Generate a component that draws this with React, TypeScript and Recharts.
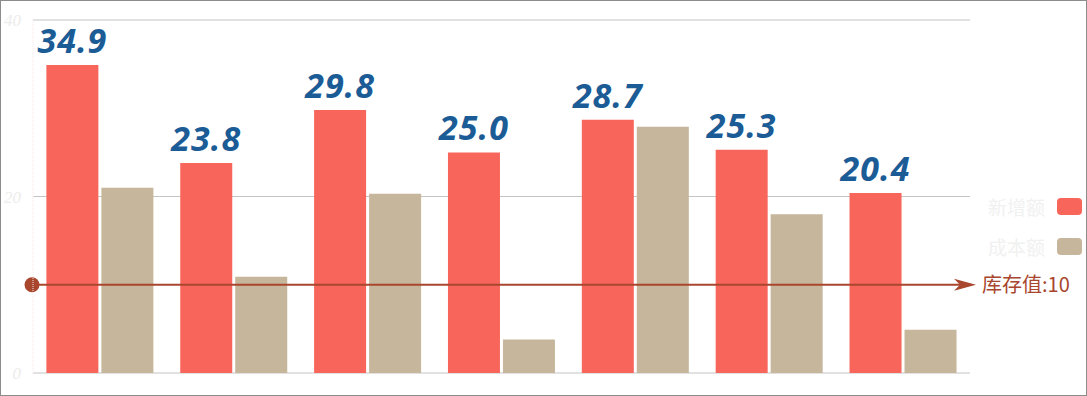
import {
  BarChart,
  Bar,
  XAxis,
  YAxis,
  CartesianGrid,
  LabelList,
  ReferenceLine,
} from "recharts"

const categories = ["一", "二", "三", "四", "五", "六", "七"]
const added = [34.9, 23.8, 29.8, 25.0, 28.7, 25.3, 20.4]
const cost = [21.0, 10.9, 20.3, 3.8, 27.9, 18.0, 4.9]
const yTicks = [0, 20, 40]
const stockValue = 10
const seriesNames = ["新增额", "成本额"]

const RED = "#f8655b"
const TAN = "#c6b69b"
const BLUE = "#1b5c96"
const REF = "#a8462e"

const data = categories.map((name, i) => ({
  name,
  added: added[i],
  cost: cost[i],
}))

function TopLabel(props: any) {
  const { x, y, width, value } = props
  return (
    <text
      x={x + width / 2}
      y={y - 12}
      textAnchor="middle"
      fill={BLUE}
      fontSize={34}
      fontWeight="bold"
      fontStyle="italic"
      letterSpacing={1}
      fontFamily="'Open Sans', sans-serif"
    >
      {Number(value).toFixed(1)}
    </text>
  )
}

function RefShape(props: any) {
  const { x1, y1, x2 } = props
  const end = x2 + 6
  return (
    <g>
      <line x1={x1} y1={y1} x2={end - 12} y2={y1} stroke={REF} strokeWidth={2} />
      <circle cx={x1 - 1} cy={y1} r={7.5} fill={REF} />
      <path d={`M${end - 22},${y1 - 6} L${end},${y1} L${end - 22},${y1 + 6} L${end - 16},${y1} Z`} fill={REF} />
      <text
        x={end + 6}
        y={y1 + 7}
        fill={REF}
        fontSize={20}
        fontFamily="'Noto Sans CJK SC', sans-serif"
      >
        {"库存值:" + stockValue}
      </text>
    </g>
  )
}

function LegendBox() {
  const colors = [RED, TAN]
  return (
    <div style={{ position: "absolute", right: 4, top: 195, width: 120 }}>
      {seriesNames.map((n, i) => (
        <div
          key={n}
          style={{ display: "flex", alignItems: "center", justifyContent: "flex-end", height: 20, marginBottom: 20 }}
        >
          <span
            style={{
              color: "#f1f1f1",
              fontSize: 19,
              fontFamily: "'Noto Sans CJK SC', sans-serif",
              marginRight: 12,
            }}
          >
            {n}
          </span>
          <span
            style={{ width: 25, height: 17, borderRadius: 4, background: colors[i], display: "inline-block" }}
          />
        </div>
      ))}
    </div>
  )
}

function App() {
  return (
    <div
      style={{
        position: "absolute",
        left: 0,
        top: 0,
        width: 1087,
        height: 396,
        border: "1px solid #8c8c8c",
        boxSizing: "border-box",
        background: "#fff",
      }}
    >
      <BarChart
        width={1085}
        height={394}
        data={data}
        margin={{ top: 19, right: 116, bottom: 22, left: 0 }}
        barGap={3}
        barCategoryGap="10%"
      >
        <CartesianGrid vertical={false} stroke="#c4c4c4" />
        <XAxis dataKey="name" hide />
        <YAxis
          width={32}
          domain={[0, 40]}
          ticks={yTicks}
          tickLine={false}
          axisLine={{ stroke: "#f8e6e6", strokeDasharray: "1 1" }}
          tick={{ fill: "#ececec", fontSize: 17, fontStyle: "italic", dx: -4 }}
          tickFormatter={(v: number) => String(v)}
        />
        <Bar dataKey="added" name={seriesNames[0]} fill={RED} isAnimationActive={false}>
          <LabelList dataKey="added" content={<TopLabel />} />
        </Bar>
        <Bar dataKey="cost" name={seriesNames[1]} fill={TAN} isAnimationActive={false} />
        <ReferenceLine y={stockValue} ifOverflow="visible" shape={<RefShape />} />
      </BarChart>
      <LegendBox />
    </div>
  )
}

export default App
